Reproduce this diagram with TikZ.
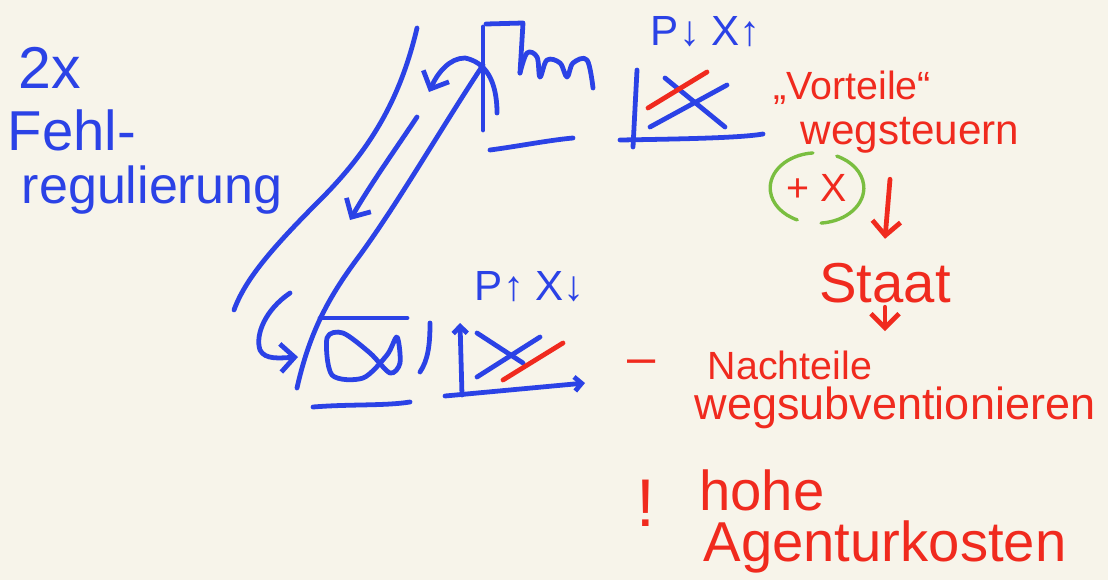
\documentclass[tikz,border=0pt]{standalone}
\usepackage{fontspec}
\setmainfont{Liberation Sans}
\usetikzlibrary{arrows.meta, positioning}
\definecolor{pen blue}{RGB}{43,66,230}
\definecolor{pen red}{RGB}{240,42,30}
\definecolor{pen green}{RGB}{122,190,64}
\definecolor{paper}{RGB}{247,244,234}

\begin{document}
\begin{tikzpicture}[x=0.025cm, y=-0.025cm,
        ink/.style       = {line width=3.4pt, line cap=round, line join=round},
        blueline/.style  = {ink, draw=pen blue},
        redline/.style   = {ink, draw=pen red},
        greenline/.style = {line width=2.4pt, line cap=round, draw=pen green},
        hand/.style      = {inner sep=0pt, font=\fontsize{#1}{#1}\selectfont},
        bluetext/.style  = {hand=#1, text=pen blue},
        redtext/.style   = {hand=#1, text=pen red},
        >={Straight Barb[length=10pt, width=20pt]}]

    % paper
    \fill[paper] (0,0) rectangle (1108,580);
    \useasboundingbox (0,0) rectangle (1108,580);

    % blue notes on the left and above the two plots
    \node[bluetext=42] (twox) at (50,68) {2x};
    \node[bluetext=40] (fehl) at (72,130) {Fehl-};
    \node[bluetext=37] (regul) at (152,190) {regulierung};
    \node[bluetext=30] (toplab) at (706,32) {P↓ X↑};
    \node[bluetext=30] (botlab) at (530,287) {P↑ X↓};

    % red notes on the right
    \begin{scope}[every node/.style={redtext=30}]
    \node[redtext=28] (vort) at (852,88) {„Vorteile“};
    \node (steer) at (910,135) {wegsteuern};
    \node[redtext=28] (pm) at (817,188) {+ X};
    \node[redtext=40] (staat) at (885,283) {Staat};
    \node[redtext=36] (dash) at (642,367) {–};
    \node[redtext=28] (nach) at (790,365) {Nachteile};
    \node[redtext=32] (subv) at (895,408) {wegsubventionieren};
    \node[redtext=48] (bang) at (646,503) {!};
    \node[redtext=40] (hohe) at (762,490) {hohe};
    \node[redtext=40] (agent) at (885,547) {Agenturkosten};
    \end{scope}

    % green ring round the "+ X"
    \draw[greenline] ([shift={(95:1.17cm and 0.88cm)}]pm.center) arc[start angle=95, end angle=245, x radius=1.17cm, y radius=0.88cm];
    \draw[greenline] ([shift={(275:1.17cm and 0.88cm)}]pm.center) arc[start angle=275, end angle=425, x radius=1.17cm, y radius=0.88cm];

    % red arrows down the right side
    \draw[redline, ->] ([xshift=-0.5cm, yshift=-0.65cm]steer.south) -- ([yshift=0.6cm]staat.north);
    \draw[redline, ->] ([yshift=-0.1cm]staat.south) -- ++(0,-0.6cm);

    % upper sketch: curve in a box over its axis
    \draw[blueline] (483,27) -- (483,130);
    \draw[blueline] (486,24) -- (523,23) -- (520,73);
    \draw[blueline] plot[smooth, tension=0.6] coordinates {(520,73) (527,53) (537,57) (540,77) (547,60) (560,63) (567,77) (573,63) (587,60) (593,88)};
    \draw[blueline] (490,150) .. controls (520,146) and (550,140) .. (573,138);

    % upper right plot
    \draw[blueline] (637,70) -- (633,147);
    \draw[blueline] (620,140) .. controls (680,139) and (740,138) .. (763,134);
    \foreach \xa/\ya/\xb/\yb in {665/78/725/127, 650/127/727/85}
        \draw[blueline] (\xa,\ya) -- (\xb,\yb);
    \draw[redline] (648,108) -- (707,72);

    % the two long strokes and the arrows between the sketches
    \draw[blueline] (417,28) .. controls (400,100) and (370,150) .. (320,200) .. controls (270,250) and (245,280) .. (234,310);
    \draw[blueline] (483,65) .. controls (440,130) and (400,200) .. (360,255) .. controls (330,295) and (310,330) .. (297,388);
    \draw[blueline, ->] (497,113) .. controls (497,80) and (485,62) .. (465,58) .. controls (450,58) and (438,72) .. (429,92);
    \draw[blueline, ->] (417,117) .. controls (395,150) and (370,185) .. (350,220);
    \draw[blueline, ->] (290,293) .. controls (265,310) and (255,335) .. (260,350) .. controls (265,360) and (280,358) .. (298,357);

    % lower sketch: loop between two lines
    \draw[blueline] (320,318) -- (407,318);
    \draw[blueline] (313,407) .. controls (350,404) and (385,406) .. (410,402);
    \draw[blueline] plot[smooth cycle] coordinates {(327,338) (332,375) (363,378) (387,355) (397,337) (400,363) (390,373) (370,353) (343,333)};
    \draw[blueline] (430,323) .. controls (430,345) and (428,360) .. (420,372);

    % lower right plot
    \begin{scope}[>={Straight Barb[length=5pt, width=10pt]}]
    \draw[blueline, ->] (462,395) -- (460,323);
    \draw[blueline, ->] (445,396) -- (585,383);
    \end{scope}
    \draw[blueline] (477,377) -- (540,337);
    \draw[blueline] (477,333) -- (523,363);
    \draw[redline] (503,380) -- (563,343);

\end{tikzpicture}
\end{document}
